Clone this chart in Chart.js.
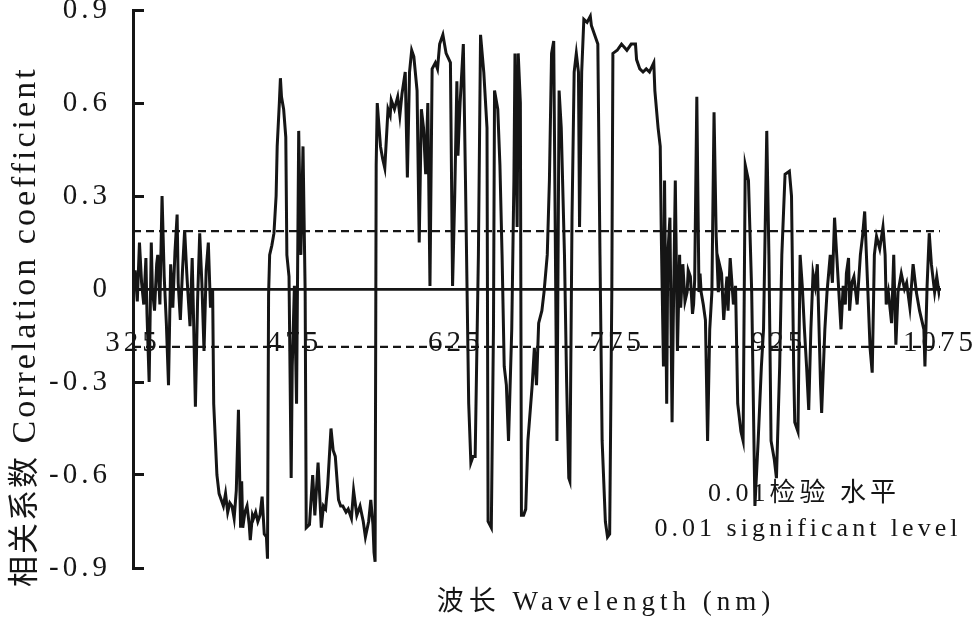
<!DOCTYPE html>
<html><head><meta charset="utf-8">
<script src="https://cdn.jsdelivr.net/npm/chart.js@4.4.0/dist/chart.umd.min.js"></script>
<style>html,body{margin:0;padding:0;background:#fff;}#wrap{width:976px;height:622px;}</style>
</head><body><div id="wrap"><canvas id="c" width="976" height="622"></canvas></div>
<script>
// ---- data ----
const wavelengths = [
325,327,329,331,333,335,337,338,340,342,343,345,347,348,350,352,354,356,358,360,362,364,366,367,369,371,373,375,376,378,380,381,383,385,387,389,391,393,395,397,399,
400,403,405,407,409,411,413,415,417,419,421,423,425,426,427,429,431,433,434,436,437,439,441,443,445,447,449,450,
451,452,454,456,458,459,461,462,463,465,467,468,470,472,473,475,477,479,481,483,485,
486,489,492,494,497,500,502,504,506,509,511,513,516,518,520,523,525,528,530,533,536,539,541,544,546,548,549,550,
551,552,555,557,559,562,564,565,568,571,573,575,578,580,582,584,586,589,591,593,595,597,599,601,603,606,608,610,613,616,620,622,
624,626,627,629,632,634,637,639,641,643,646,648,651,654,655,658,660,661,664,666,668,670,672,674,677,679,680,682,683,685,
686,688,690,692,696,698,700,702,705,707,710,712,714,716,719,721,723,726,728,730,731,733,735,737,739,740,742,744,747,750,751,754,757,759,
761,764,766,768,770,771,775,779,784,788,792,793,796,799,802,805,809,810,813,815,816,818,819,821,822,824,826,827,829,
831,833,834,836,838,840,841,843,845,846,847,849,851,852,853,855,857,859,861,863,865,867,869,870,872,874,875,877,878,880,881,883,885,
887,890,892,894,897,900,903,906,909,911,914,916,918,921,923,926,928,931,935,937,939,940,943,945,947,949,951,953,955,957,959,961,964,965,968,970,
973,975,977,979,981,983,985,987,988,990,991,993,995,998,1001,1003,1005,1008,1010,1012,1014,1016,1019,1022,1024,1025,1027,1030,1032,1034,1036,1039,
1042,1044,1047,1050,1053,1056,1060,1061,1063,1065,1067,1070,1072,1074,1075
];
const correlation = [
-0.01,0.06,-0.04,0.15,0.02,-0.05,0.10,-0.08,-0.30,0.15,0.00,-0.07,0.08,0.11,-0.05,0.30,0.04,-0.11,-0.31,0.08,-0.06,0.12,0.24,0.02,-0.10,0.06,0.19,0.05,-0.01,-0.12,0.10,-0.05,-0.38,-0.04,0.18,0.02,-0.20,0.06,0.15,-0.06,0.00,
-0.37,-0.60,-0.66,-0.68,-0.70,-0.66,-0.72,-0.69,-0.70,-0.74,-0.65,-0.39,-0.77,-0.62,-0.77,-0.72,-0.70,-0.76,-0.81,-0.73,-0.74,-0.72,-0.75,-0.73,-0.67,-0.79,-0.80,-0.87,
-0.02,0.11,0.14,0.18,0.30,0.46,0.60,0.68,0.62,0.58,0.49,0.11,0.04,-0.61,-0.25,0.01,-0.37,0.51,0.11,0.46,-0.01,
-0.77,-0.76,-0.60,-0.73,-0.56,-0.77,-0.70,-0.71,-0.63,-0.45,-0.52,-0.54,-0.68,-0.70,-0.70,-0.72,-0.71,-0.74,-0.65,-0.73,-0.70,-0.75,-0.80,-0.75,-0.68,-0.76,-0.85,-0.88,
0.40,0.60,0.46,0.42,0.39,0.58,0.56,0.61,0.58,0.62,0.56,0.63,0.70,0.36,0.70,0.77,0.75,0.64,0.15,0.58,0.52,0.37,0.60,0.01,0.71,0.73,0.71,0.79,0.82,0.76,0.73,0.01,
0.30,0.67,0.43,0.60,0.79,0.35,-0.37,-0.56,-0.54,-0.54,0.11,0.82,0.70,0.52,-0.75,-0.77,-0.13,0.64,0.58,0.40,0.11,-0.25,-0.31,-0.49,-0.13,0.35,0.76,0.20,0.76,0.60,
-0.73,-0.73,-0.71,-0.49,-0.31,-0.19,-0.31,-0.11,-0.07,-0.01,0.11,0.35,0.76,0.80,-0.49,0.64,0.52,0.11,-0.30,-0.61,-0.62,0.23,0.70,0.76,0.70,0.20,0.70,0.87,0.86,0.88,0.85,0.82,0.79,0.11,
-0.49,-0.75,-0.80,-0.79,-0.01,0.76,0.77,0.79,0.77,0.79,0.79,0.74,0.71,0.70,0.71,0.70,0.73,0.64,0.52,0.46,0.17,-0.25,0.35,-0.37,0.11,0.23,-0.43,-0.13,0.35,
-0.20,0.11,-0.06,0.08,-0.04,-0.01,0.06,0.04,-0.08,-0.05,0.03,0.62,-0.01,0.05,-0.01,-0.05,-0.10,-0.49,-0.13,-0.01,0.57,0.17,-0.01,0.08,0.05,-0.10,-0.05,0.04,-0.07,0.10,0.05,-0.05,0.01,
-0.37,-0.46,-0.49,0.40,0.35,-0.01,-0.70,-0.49,-0.25,-0.13,0.51,0.11,-0.49,-0.55,-0.61,-0.25,0.11,0.37,0.38,0.30,-0.25,-0.43,-0.46,0.11,0.01,-0.13,-0.25,-0.39,-0.13,0.05,0.01,0.08,-0.31,-0.40,-0.13,-0.01,
0.11,0.02,0.23,0.11,-0.01,-0.13,0.01,-0.05,0.05,0.10,-0.07,0.02,0.04,-0.05,0.11,0.17,0.25,-0.01,-0.19,-0.27,0.11,0.17,0.13,0.20,0.11,-0.05,-0.01,-0.11,0.11,-0.18,-0.01,0.05,
0.00,0.02,-0.06,0.08,-0.01,-0.07,-0.13,-0.25,0.01,0.18,0.08,-0.01,0.04,-0.01,0.01
];
const xTicks = [325, 475, 625, 775, 925, 1075];
const yTicks = [-0.9, -0.6, -0.3, 0, 0.3, 0.6, 0.9];
const sigUpper = 0.187;
const sigLower = -0.187;
const yTitleCn = '相关系数';
const yTitleEn = ' Correlation coefficient';
const xTitle = '波长 Wavelength (nm)';
const noteLines = ['0.01检验 水平', '0.01 significant level'];

const FONT = '"Liberation Serif", "Noto Sans CJK SC", serif';
const INK = '#151515';

const spacingPlugin = {
  id: 'spacing',
  beforeLayout(chart) { chart.ctx.letterSpacing = '4px'; },
  beforeDraw(chart) { chart.ctx.letterSpacing = '4px'; }
};
const textPlugin = {
  id: 'texts',
  afterDraw(chart) {
    const ctx = chart.ctx;
    ctx.save();
    ctx.fillStyle = INK;
    ctx.textBaseline = 'middle';
    // x title
    ctx.font = '27px ' + FONT;
    ctx.letterSpacing = '5px';
    ctx.textAlign = 'center';
    ctx.fillText(xTitle, 606, 603);
    // note
    ctx.font = '26px ' + FONT;
    ctx.letterSpacing = '4px';
    ctx.fillText(noteLines[0], 804, 494);
    ctx.fillText(noteLines[1], 808, 529);
    // y title (rotated)
    ctx.translate(26, 587);
    ctx.rotate(-Math.PI / 2);
    ctx.textAlign = 'left';
    ctx.font = '31px ' + FONT;
    ctx.letterSpacing = '2px';
    ctx.fillText(yTitleCn, 0, 0);
    const w = ctx.measureText(yTitleCn).width;
    ctx.font = '34px ' + FONT;
    ctx.letterSpacing = '3px';
    ctx.fillText(yTitleEn, w, 0);
    ctx.restore();
  }
};

const series = wavelengths.map((w, i) => ({x: w, y: correlation[i]}));
const xMin = xTicks[0], xMax = xTicks[xTicks.length - 1];

new Chart(document.getElementById('c'), {
  type: 'line',
  data: {
    datasets: [
      {data: series, borderColor: INK, borderWidth: 3, pointRadius: 0, tension: 0, fill: false, borderJoinStyle: 'miter'},
      {data: [{x: xMin, y: sigUpper}, {x: xMax, y: sigUpper}], borderColor: INK, borderWidth: 2.3, borderDash: [8, 5], pointRadius: 0},
      {data: [{x: xMin, y: sigLower}, {x: xMax, y: sigLower}], borderColor: INK, borderWidth: 2.3, borderDash: [8, 5], pointRadius: 0}
    ]
  },
  options: {
    responsive: false,
    animation: false,
    devicePixelRatio: 1,
    layout: {padding: {top: 10, right: 36, bottom: 54, left: 0}},
    plugins: {legend: {display: false}, tooltip: {enabled: false}},
    scales: {
      x: {
        type: 'linear', min: xMin, max: xMax,
        position: {y: 0},
        afterBuildTicks: s => { s.ticks = xTicks.map(v => ({value: v})); },
        afterFit: s => { s.paddingLeft = 0; s.paddingRight = 0; },
        ticks: {autoSkip: false, maxRotation: 0, padding: 37, color: INK, font: {family: FONT, size: 29}, callback: v => String(v)},
        grid: {display: false, drawTicks: false},
        border: {display: true, color: INK, width: 2.8}
      },
      y: {
        type: 'linear', min: -0.9, max: 0.9,
        afterBuildTicks: s => { s.ticks = yTicks.map(v => ({value: v})); },
        afterFit: s => { s.width = 133; s.paddingTop = 8; s.paddingBottom = 8; },
        ticks: {autoSkip: false, padding: 33, color: INK, font: {family: FONT, size: 29, lineHeight: 0.9},
          callback: v => (Math.abs(v) < 1e-9 ? '0' : (Math.round(v * 10) / 10).toFixed(1))},
        grid: {display: true, drawOnChartArea: false, drawTicks: true, tickLength: -11, color: INK, lineWidth: 3},
        border: {display: true, color: INK, width: 3}
      }
    }
  },
  plugins: [spacingPlugin, textPlugin]
});
</script>
</body></html>
